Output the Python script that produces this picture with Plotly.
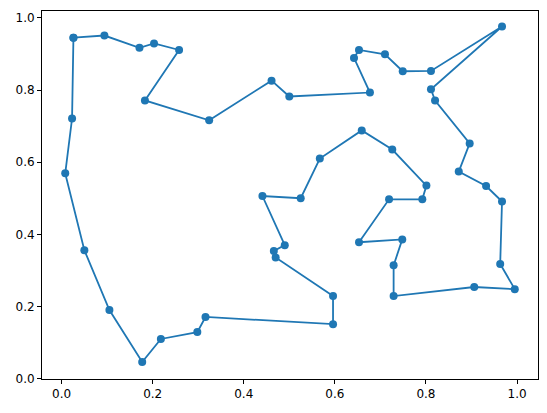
import plotly.graph_objects as go

# Tour order (closed loop)
x_vals = [0.026, 0.094, 0.171, 0.203, 0.258, 0.183, 0.324, 0.461, 0.500, 0.677,
          0.642, 0.653, 0.710, 0.749, 0.811, 0.967, 0.811, 0.820, 0.896, 0.872,
          0.932, 0.967, 0.963, 0.995, 0.906, 0.729, 0.729, 0.748, 0.653, 0.719,
          0.792, 0.801, 0.726, 0.659, 0.567, 0.525, 0.441, 0.490, 0.466, 0.470,
          0.596, 0.596, 0.316, 0.298, 0.218, 0.177, 0.105, 0.050, 0.008, 0.023,
          0.026]
y_vals = [0.945, 0.951, 0.917, 0.929, 0.911, 0.771, 0.716, 0.826, 0.782, 0.793,
          0.889, 0.911, 0.899, 0.852, 0.853, 0.976, 0.802, 0.771, 0.652, 0.574,
          0.534, 0.491, 0.318, 0.248, 0.254, 0.229, 0.314, 0.386, 0.378, 0.497,
          0.497, 0.535, 0.635, 0.688, 0.610, 0.500, 0.506, 0.370, 0.354, 0.336,
          0.229, 0.151, 0.171, 0.129, 0.110, 0.046, 0.190, 0.356, 0.569, 0.721,
          0.945]

tick_vals = [0.0, 0.2, 0.4, 0.6, 0.8, 1.0]
tick_text = ["0.0", "0.2", "0.4", "0.6", "0.8", "1.0"]

fig = go.Figure(go.Scatter(
    x=x_vals, y=y_vals, mode="lines+markers",
    line=dict(color="#1f77b4", width=1.8),
    marker=dict(color="#1f77b4", size=8),
))

axis_common = dict(
    showgrid=False, zeroline=False, showline=True, linecolor="black",
    linewidth=1, mirror=True, ticks="outside", ticklen=4, tickwidth=1,
    tickcolor="black", tickvals=tick_vals, ticktext=tick_text,
    tickfont=dict(family="DejaVu Sans", size=12, color="black"),
    automargin=False,
)

fig.update_layout(
    width=547, height=413,
    margin=dict(l=42, r=9, t=11, b=34),
    plot_bgcolor="white", paper_bgcolor="white",
    showlegend=False,
    xaxis=dict(range=[-0.043, 1.046], **axis_common),
    yaxis=dict(range=[-0.001, 1.019], **axis_common),
)

fig.write_html("out.html", config={"displayModeBar": False},
               post_script="document.body.style.margin='0';")
